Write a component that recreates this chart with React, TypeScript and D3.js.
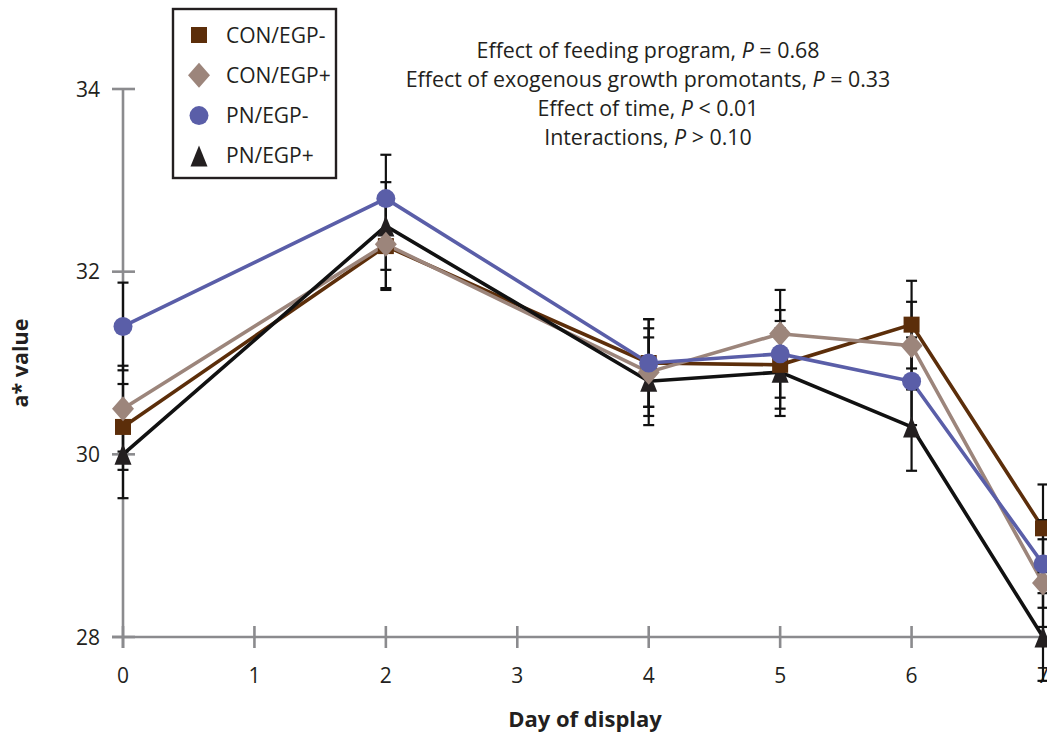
import React from "react";
import * as d3 from "d3";

const days = [0, 2, 4, 5, 6, 7];
const xTicks = [0, 1, 2, 3, 4, 5, 6, 7];
const yTicks = [28, 30, 32, 34];

const conMinus = [30.3, 32.28, 31.0, 30.98, 31.42, 29.19];
const conPlus = [30.5, 32.3, 30.9, 31.32, 31.19, 28.59];
const pnMinus = [31.4, 32.8, 31.0, 31.1, 30.8, 28.8];
const pnPlus = [30.0, 32.5, 30.8, 30.9, 30.3, 28.0];

const seConMinus = [0.47, 0.48, 0.48, 0.48, 0.48, 0.48];
const seConPlus = [0.47, 0.48, 0.48, 0.48, 0.48, 0.48];
const sePnMinus = [0.48, 0.48, 0.48, 0.48, 0.48, 0.48];
const sePnPlus = [0.48, 0.48, 0.48, 0.48, 0.48, 0.48];

const seriesNames = ["CON/EGP-", "CON/EGP+", "PN/EGP-", "PN/EGP+"];
const seriesColors = ["#5c2e0a", "#9c857b", "#5a5ea8", "#231f20"];
const lineColors = ["#5c2e0a", "#9c857b", "#5a5ea8", "#111111"];
const seriesShapes = ["square", "diamond", "circle", "triangle"];

const annotations = [
  ["Effect of feeding program, ", "P", " = 0.68"],
  ["Effect of exogenous growth promotants, ", "P", " = 0.33"],
  ["Effect of time, ", "P", " < 0.01"],
  ["Interactions, ", "P", " > 0.10"],
];

const W = 1047;
const H = 737;
const FONT = "'Open Sans', 'Noto Sans', sans-serif";
const AXIS = "#8b8b8e";

function Marker({ shape, cx, cy, color }: { shape: string; cx: number; cy: number; color: string }) {
  if (shape === "square") return <rect x={cx - 8} y={cy - 8} width={16} height={16} fill={color} />;
  if (shape === "diamond")
    return <path d={`M${cx},${cy - 12.5}L${cx + 11},${cy}L${cx},${cy + 12.5}L${cx - 11},${cy}Z`} fill={color} />;
  if (shape === "circle") return <circle cx={cx} cy={cy} r={9.5} fill={color} />;
  return <path d={`M${cx},${cy - 10.5}L${cx + 8.5},${cy + 10.5}L${cx - 8.5},${cy + 10.5}Z`} fill={color} />;
}

export default function App() {
  const x = d3.scaleLinear().domain([0, 7]).range([123, 1043]);
  const y = d3.scaleLinear().domain([28, 34]).range([637, 89]);
  const all = [conMinus, conPlus, pnMinus, pnPlus];
  const ses = [seConMinus, seConPlus, sePnMinus, sePnPlus];
  const line = d3
    .line<number>()
    .x((_, i) => x(days[i]))
    .y((d) => y(d));
  const markerOrder = [3, 0, 1, 2];

  return (
    <svg
      width={W}
      height={H}
      style={{ position: "absolute", left: 0, top: 0, background: "#fff", overflow: "hidden" }}
      fontFamily={FONT}
    >
      <rect width={W} height={H} fill="#fff" />
      {/* axes */}
      <line x1={x(0)} x2={x(0)} y1={y(34)} y2={y(28) + 11} stroke={AXIS} strokeWidth={2.6} />
      <line x1={x(0) - 11} x2={W + 5} y1={y(28)} y2={y(28)} stroke={AXIS} strokeWidth={2.6} />
      {yTicks.map((t) => (
        <g key={"yt" + t}>
          <line x1={x(0) - 11} x2={x(0) + 12} y1={y(t)} y2={y(t)} stroke={AXIS} strokeWidth={2.6} />
          <text x={100} y={y(t)} dy="0.36em" textAnchor="end" fontSize={21} fill="#231f20">
            {t}
          </text>
        </g>
      ))}
      {xTicks.map((t) => (
        <g key={"xt" + t}>
          <line x1={x(t)} x2={x(t)} y1={y(28) - 11} y2={y(28) + 11} stroke={AXIS} strokeWidth={2.6} />
          <text x={x(t)} y={683} textAnchor="middle" fontSize={21} fill="#231f20">
            {t}
          </text>
        </g>
      ))}
      <text x={585} y={727} textAnchor="middle" fontSize={22} fontWeight="bold" fill="#231f20">
        Day of display
      </text>
      <text
        transform={`translate(28,${363}) rotate(-90)`}
        textAnchor="middle"
        fontSize={21.5}
        fontWeight="bold"
        fill="#231f20"
      >
        a* value
      </text>

      {/* lines */}
      {all.map((s, i) => (
        <path key={"l" + i} d={line(s) || ""} fill="none" stroke={lineColors[i]} strokeWidth={3.6} />
      ))}
      {/* error bars */}
      {all.map((s, i) =>
        s.map((v, j) => {
          const cx = x(days[j]);
          const y1 = y(v + ses[i][j]);
          const y2 = y(v - ses[i][j]);
          return (
            <g key={`e${i}-${j}`} stroke="#111" strokeWidth={2.2}>
              <line x1={cx} x2={cx} y1={y1} y2={y2} />
              <line x1={cx - 5.5} x2={cx + 5.5} y1={y1} y2={y1} />
              <line x1={cx - 5.5} x2={cx + 5.5} y1={y2} y2={y2} />
            </g>
          );
        })
      )}
      {/* markers */}
      {markerOrder.map((i) =>
        all[i].map((v, j) => (
          <Marker key={`m${i}-${j}`} shape={seriesShapes[i]} cx={x(days[j])} cy={y(v)} color={seriesColors[i]} />
        ))
      )}

      {/* annotations */}
      {annotations.map((a, k) => (
        <text key={"a" + k} x={648} y={58 + k * 29} textAnchor="middle" fontSize={21.4} fill="#231f20">
          {a[0]}
          <tspan fontStyle="italic">{a[1]}</tspan>
          {a[2]}
        </text>
      ))}

      {/* legend */}
      <rect x={173} y={9} width={163} height={169} fill="#fff" stroke="#231f20" strokeWidth={2.4} />
      {seriesNames.map((n, i) => {
        const cy = 35 + i * 40.3;
        return (
          <g key={"lg" + i}>
            <Marker shape={seriesShapes[i]} cx={199} cy={cy} color={seriesColors[i]} />
            <text x={226} y={cy} dy="0.36em" fontSize={21} fill="#231f20">
              {n}
            </text>
          </g>
        );
      })}
    </svg>
  );
}
